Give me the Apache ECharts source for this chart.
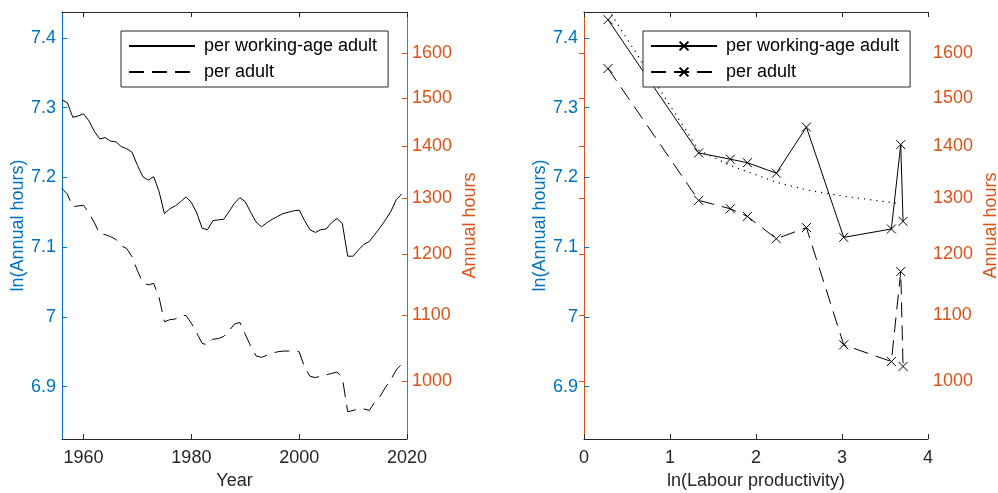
<!DOCTYPE html>
<html><head><meta charset="utf-8">
<script src="https://cdn.jsdelivr.net/npm/echarts@6/dist/echarts.min.js"></script>
<style>html,body{margin:0;padding:0;background:#fff}#c{width:998px;height:493px}</style>
</head><body><div id="c"></div>
<script>
// ---- Data ----
const years = [1956,1957,1958,1959,1960,1961,1962,1963,1964,1965,1966,1967,1968,1969,
  1970,1971,1972,1973,1974,1975,1976,1977,1978,1979,1980,1981,1982,1983,1984,1985,1986,
  1987,1988,1989,1990,1991,1992,1993,1994,1995,1996,1997,1998,1999,2000,2001,2002,2003,
  2004,2005,2006,2007,2008,2009,2010,2011,2012,2013,2014,2015,2016,2017,2018,2019];
const lnHoursWorkingAge = [7.311,7.307,7.286,7.288,7.291,7.281,7.266,7.255,7.257,7.252,
  7.251,7.244,7.241,7.236,7.217,7.201,7.196,7.201,7.180,7.148,7.155,7.159,7.165,7.172,
  7.164,7.149,7.127,7.125,7.138,7.139,7.140,7.151,7.163,7.171,7.165,7.150,7.136,7.129,
  7.135,7.140,7.144,7.148,7.150,7.152,7.153,7.138,7.125,7.121,7.125,7.126,7.135,7.141,
  7.134,7.087,7.087,7.096,7.104,7.108,7.118,7.128,7.139,7.151,7.168,7.176];
const lnHoursAdult = [7.184,7.176,7.158,7.159,7.160,7.149,7.135,7.119,7.118,7.115,
  7.111,7.102,7.098,7.086,7.066,7.049,7.046,7.048,7.028,6.993,6.996,6.997,7.002,7.002,
  6.991,6.977,6.962,6.960,6.968,6.969,6.972,6.980,6.990,6.992,6.975,6.958,6.944,6.942,
  6.945,6.948,6.950,6.951,6.951,6.951,6.950,6.928,6.915,6.913,6.915,6.917,6.919,6.921,
  6.913,6.864,6.866,6.868,6.868,6.866,6.878,6.886,6.899,6.910,6.924,6.932];

const lnProductivity = [0.279,1.334,1.702,1.900,2.237,2.586,3.020,3.574,3.683,3.710];
const prodWorkingAge = [7.426,7.235,7.226,7.221,7.206,7.272,7.114,7.126,7.247,7.137];
const prodAdult      = [7.356,7.167,7.155,7.144,7.112,7.128,6.960,6.936,7.065,6.929];
const fitX           = [0.279,1.334,1.702,1.900,2.237,2.586,3.020,3.574,3.683];
const fitY           = [7.441,7.239,7.217,7.208,7.193,7.182,7.173,7.164,7.162];

const yearTicks  = [1960,1980,2000,2020];
const prodTicks  = [0,1,2,3,4];
const lnTicks    = [6.9,7,7.1,7.2,7.3,7.4];
const hoursTicks = [1000,1100,1200,1300,1400,1500,1600];

const legendNames = ['per working-age adult','per adult'];

// ---- Styling ----
const FONT = "'Liberation Sans', Arial, Helvetica, sans-serif";
const BLUE = '#0072BD', ORANGE = '#D95319', DARK = '#262626';
const FS = 18;
const lnMin = 6.825, lnMax = 7.437;
const xSym = 'path://M0,0L10,10M10,0L0,10';

function zip(a, b) { return a.map((v, i) => [v, b[i]]); }

function lnAxis(gi) {
  return {type:'value', gridIndex:gi, position:'left', min:lnMin, max:lnMax,
    name:'ln(Annual hours)', nameLocation:'middle', nameGap:35, nameRotate:90,
    nameTextStyle:{color:BLUE, fontSize:FS, fontFamily:FONT},
    axisLine:{show:true, lineStyle:{color:BLUE, width:1}},
    axisTick:{show:true, inside:true, length:5, customValues:lnTicks, lineStyle:{color:BLUE}},
    axisLabel:{show:true, customValues:lnTicks, color:BLUE, fontSize:FS, fontFamily:FONT, margin:6,
      formatter: v => String(Math.round(v * 10) / 10)},
    splitLine:{show:false}};
}
function hoursAxis(gi) {
  const vals = hoursTicks.map(h => Math.log(h));
  return {type:'value', gridIndex:gi, position:'right', min:lnMin, max:lnMax,
    name:'Annual hours', nameLocation:'middle', nameGap:54, nameRotate:90,
    nameTextStyle:{color:ORANGE, fontSize:FS, fontFamily:FONT},
    axisLine:{show:true, lineStyle:{color:ORANGE, width:1}},
    axisTick:{show:true, inside:true, length:5, customValues:vals, lineStyle:{color:ORANGE}},
    axisLabel:{show:true, customValues:vals, color:ORANGE, fontSize:FS, fontFamily:FONT, margin:5,
      formatter: v => String(Math.round(Math.exp(v)))},
    splitLine:{show:false}};
}
function xAxisB(gi, min, max, ticks, name) {
  return {type:'value', gridIndex:gi, position:'bottom', min, max,
    name, nameLocation:'middle', nameGap:33,
    nameTextStyle:{color:DARK, fontSize:FS, fontFamily:FONT},
    axisLine:{show:true, onZero:false, lineStyle:{color:DARK, width:1}},
    axisTick:{show:true, inside:true, length:5, customValues:ticks, lineStyle:{color:DARK}},
    axisLabel:{show:true, customValues:ticks, color:DARK, fontSize:FS, fontFamily:FONT, margin:10,
      formatter: v => String(v)},
    splitLine:{show:false}};
}
function xAxisT(gi, min, max, ticks) {
  return {type:'value', gridIndex:gi, position:'top', min, max,
    axisLine:{show:true, onZero:false, lineStyle:{color:DARK, width:1}},
    axisTick:{show:true, inside:true, length:5, customValues:ticks, lineStyle:{color:DARK}},
    axisLabel:{show:false}, splitLine:{show:false}};
}
function legend(left, prefix, hideSymbol) {
  const lg = {show:true, left, top:31, orient:'vertical', align:'left',
    data: legendNames.map(n => prefix + n),
    formatter: n => n.slice(prefix.length),
    itemWidth:66, itemHeight:11, itemGap:8, padding:[6,11,6,7],
    borderColor:DARK, borderWidth:1, backgroundColor:'#fff', borderRadius:0,
    selectedMode:false,
    textStyle:{fontSize:FS, color:'#000', fontFamily:FONT, lineHeight:18, padding:[0,0,0,4]}};
  if (hideSymbol) lg.itemStyle = {color:'rgba(0,0,0,0)', borderColor:'rgba(0,0,0,0)', borderWidth:0};
  return lg;
}

const chart = echarts.init(document.getElementById('c'), null, {renderer:'canvas'});
chart.setOption({
  animation:false,
  backgroundColor:'#fff',
  textStyle:{fontFamily:FONT},
  grid:[
    {left:62, top:12, width:345, height:427, containLabel:false, outerBoundsMode:'none'},
    {left:584, top:12, width:344, height:427, containLabel:false, outerBoundsMode:'none'}
  ],
  xAxis:[
    xAxisB(0, 1956, 2020, yearTicks, 'Year'),
    xAxisT(0, 1956, 2020, yearTicks),
    xAxisB(1, 0, 4, prodTicks, 'ln(Labour productivity)'),
    xAxisT(1, 0, 4, prodTicks)
  ],
  yAxis:[ lnAxis(0), hoursAxis(0), lnAxis(1), hoursAxis(1) ],
  legend:[ legend(121, 'L:', true), legend(643, 'R:', false) ],
  series:[
    {name:'L:per working-age adult', type:'line', xAxisIndex:0, yAxisIndex:0,
     data: zip(years, lnHoursWorkingAge), symbol:'none', showSymbol:false,
     itemStyle:{color:'#000'}, lineStyle:{color:'#000', width:1}},
    {name:'L:per adult', type:'line', xAxisIndex:0, yAxisIndex:0,
     data: zip(years, lnHoursAdult), symbol:'none', showSymbol:false,
     itemStyle:{color:'#000'}, lineStyle:{color:'#000', width:1, type:[15,8]}},
    {name:'fit', type:'line', xAxisIndex:2, yAxisIndex:2,
     data: zip(fitX, fitY), symbol:'none', showSymbol:false,
     itemStyle:{color:'#000'}, lineStyle:{color:'#000', width:1.2, type:[1.2,5]}},
    {name:'R:per working-age adult', type:'line', xAxisIndex:2, yAxisIndex:2,
     data: zip(lnProductivity, prodWorkingAge), symbol:xSym, symbolSize:9, showSymbol:true,
     itemStyle:{color:'#000', borderColor:'#000', borderWidth:1}, lineStyle:{color:'#000', width:1}},
    {name:'R:per adult', type:'line', xAxisIndex:2, yAxisIndex:2,
     data: zip(lnProductivity, prodAdult), symbol:xSym, symbolSize:9, showSymbol:true,
     itemStyle:{color:'#000', borderColor:'#000', borderWidth:1}, lineStyle:{color:'#000', width:1, type:[15,8]}}
  ]
});
</script></body></html>
